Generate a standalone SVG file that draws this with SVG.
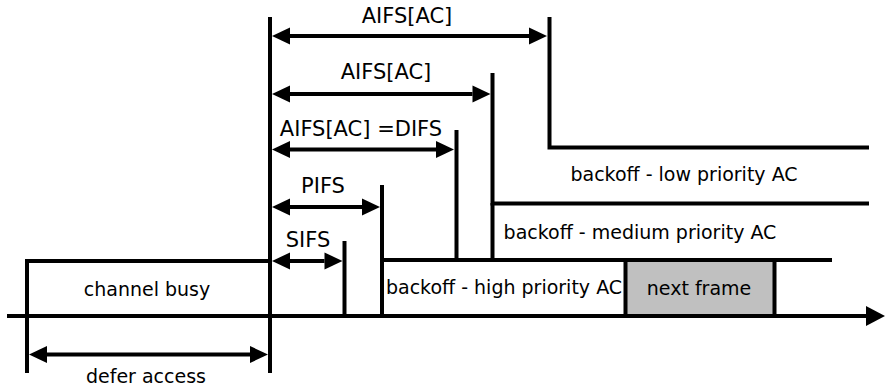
<svg xmlns="http://www.w3.org/2000/svg" width="885" height="388" viewBox="0 0 885 388">
  <style>
    .ln { stroke: #000; stroke-width: 4; fill: none; }
    .ar { stroke: #000; stroke-width: 4; fill: none; marker-start: url(#ah); marker-end: url(#ah); }
    .lbl { font-family: "DejaVu Sans", "Liberation Sans", sans-serif; font-size: 21px; fill: #000; text-anchor: middle; }
    .txt { font-family: "DejaVu Sans", "Liberation Sans", sans-serif; font-size: 19px; fill: #000; text-anchor: middle; }
  </style>
  <defs>
    <marker id="ah" markerUnits="userSpaceOnUse" orient="auto-start-reverse" refX="0" refY="0" markerWidth="20" markerHeight="20" overflow="visible">
      <path d="M0,-8.5 L18,0 L0,8.5 z" fill="#000"/>
    </marker>
    <marker id="tl" markerUnits="userSpaceOnUse" orient="auto" refX="0" refY="0" markerWidth="20" markerHeight="22" overflow="visible">
      <path d="M0,-10 L19,0 L0,10 z" fill="#000"/>
    </marker>
  </defs>
  <rect width="885" height="388" fill="#fff"/>

  <g id="timeline">
    <line class="ln" x1="7" y1="316" x2="866" y2="316" marker-end="url(#tl)"/>
  </g>

  <g id="channel-busy">
    <polyline class="ln" points="27,373 27,261 270,261"/>
    <text class="txt" x="147" y="296">channel busy</text>
  </g>

  <g id="defer-boundary">
    <line class="ln" x1="270" y1="17" x2="270" y2="373"/>
  </g>

  <g id="sifs">
    <line class="ln" x1="344.5" y1="241" x2="344.5" y2="316"/>
    <text class="lbl" x="308" y="247">SIFS</text>
  </g>

  <g id="pifs">
    <line class="ln" x1="382" y1="185" x2="382" y2="316"/>
    <text class="lbl" x="323" y="193">PIFS</text>
  </g>

  <g id="backoff-high">
    <line class="ln" x1="380" y1="260" x2="832" y2="260"/>
    <text class="txt" x="504" y="294">backoff - high priority AC</text>
  </g>

  <g id="difs">
    <line class="ln" x1="456.5" y1="130" x2="456.5" y2="260"/>
    <text class="lbl" x="361" y="136">AIFS[AC] =DIFS</text>
  </g>

  <g id="backoff-medium">
    <polyline class="ln" points="492.5,73 492.5,203.5 869,203.5"/>
    <line class="ln" x1="492.5" y1="203" x2="492.5" y2="260"/>
    <text class="txt" x="640" y="239">backoff - medium priority AC</text>
    <text class="lbl" x="386" y="79">AIFS[AC]</text>
  </g>

  <g id="backoff-low">
    <polyline class="ln" points="549.5,17 549.5,147.5 869,147.5"/>
    <text class="txt" x="684" y="181">backoff - low priority AC</text>
    <text class="lbl" x="407" y="23">AIFS[AC]</text>
  </g>

  <g id="next-frame">
    <rect x="625.5" y="260" width="149" height="56" fill="#c0c0c0" stroke="#000" stroke-width="4"/>
    <text class="txt" x="699" y="295">next frame</text>
  </g>

  <g id="connectors">
    <line class="ar" x1="290" y1="36" x2="529" y2="36"/>
    <line class="ar" x1="290" y1="94" x2="472.5" y2="94"/>
    <line class="ar" x1="290" y1="149.5" x2="436" y2="149.5"/>
    <line class="ar" x1="290" y1="207" x2="362" y2="207"/>
    <line class="ar" x1="290" y1="261" x2="324.5" y2="261"/>
    <line class="ar" x1="47" y1="354.5" x2="250" y2="354.5"/>
    <text class="txt" x="146" y="383">defer access</text>
  </g>
</svg>
